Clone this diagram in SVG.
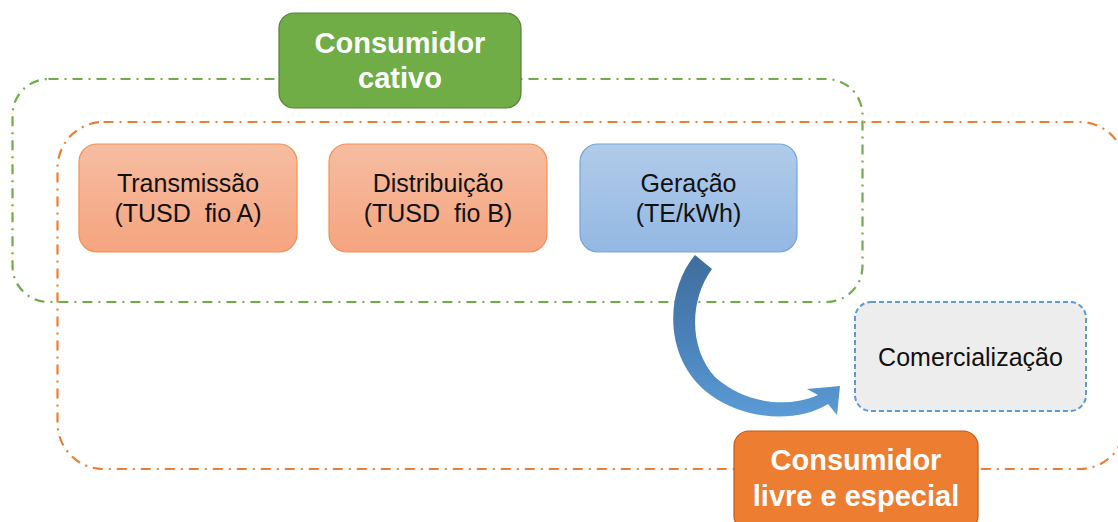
<svg xmlns="http://www.w3.org/2000/svg" width="1118" height="522" viewBox="0 0 1118 522">
<defs>
<linearGradient id="gOr" x1="0" y1="0" x2="0" y2="1"><stop offset="0" stop-color="#F6BDA1"/><stop offset="1" stop-color="#F5A47F"/></linearGradient>
<linearGradient id="gBl" x1="0" y1="0" x2="0" y2="1"><stop offset="0" stop-color="#B1CBE9"/><stop offset="1" stop-color="#93B8E3"/></linearGradient>
<linearGradient id="gAr" x1="0" y1="0" x2="0" y2="1"><stop offset="0" stop-color="#3F6E9C"/><stop offset="0.5" stop-color="#4A80B8"/><stop offset="1" stop-color="#5B9BD5"/></linearGradient>
<style>
.t{font-family:"Liberation Sans",Arial,sans-serif;font-size:25px;fill:#111;text-anchor:middle;white-space:pre}
.h{font-family:"Liberation Sans",Arial,sans-serif;font-size:29px;font-weight:bold;fill:#fff;text-anchor:middle}
.ob{fill:url(#gOr);stroke:#F29057;stroke-width:1.2}
.bb{fill:url(#gBl);stroke:#76A5DA;stroke-width:1.2}
</style>
</defs>
<g id="frames">
<rect id="cativo-frame" x="12.5" y="79" width="850" height="223" rx="36" fill="none" stroke="#70AD47" stroke-width="2.2" stroke-dasharray="10 6 2 6"/>
<rect id="livre-frame" x="57.5" y="122" width="1068" height="347" rx="46" fill="none" stroke="#ED7D31" stroke-width="2.2" stroke-dasharray="10 6 2 6"/>
</g>
<g id="transmissao">
<rect class="ob" x="79" y="144" width="218" height="108" rx="18"/>
<text class="t" x="188" y="192">Transmissão</text>
<text class="t" x="188" y="222">(TUSD  fio A)</text>
</g>
<g id="distribuicao">
<rect class="ob" x="329" y="144" width="218" height="108" rx="18"/>
<text class="t" x="438" y="192">Distribuição</text>
<text class="t" x="438" y="222">(TUSD  fio B)</text>
</g>
<g id="geracao">
<rect class="bb" x="580" y="144" width="217" height="108" rx="18"/>
<text class="t" x="688.5" y="192">Geração</text>
<text class="t" x="688.5" y="222">(TE/kWh)</text>
</g>
<g id="comercializacao">
<rect x="855" y="302" width="231" height="109" rx="16" fill="#EDEDED" stroke="#5B9BD5" stroke-width="2" stroke-dasharray="5 3"/>
<text class="t" x="970.5" y="366">Comercialização</text>
</g>
<g id="connectors">
<path d="M695,255 C664,292 663,362 712,396 C744,419 796,424 828,404 L837,415 L840,386 L807,389 L818,395 C786,409 744,403 715,377 C690,350 688,302 712,269 Z" fill="url(#gAr)"/>
</g>
<g id="consumidor-cativo">
<rect x="279" y="13" width="242" height="95" rx="15" fill="#70AD47" stroke="#548235" stroke-width="1.2"/>
<text class="h" x="400" y="53">Consumidor</text>
<text class="h" x="400" y="88">cativo</text>
</g>
<g id="consumidor-livre">
<rect x="734" y="431" width="244" height="100" rx="15" fill="#ED7D31" stroke="#C55A11" stroke-width="1.2"/>
<text class="h" x="856" y="470">Consumidor</text>
<text class="h" x="856" y="506">livre e especial</text>
</g>
</svg>
